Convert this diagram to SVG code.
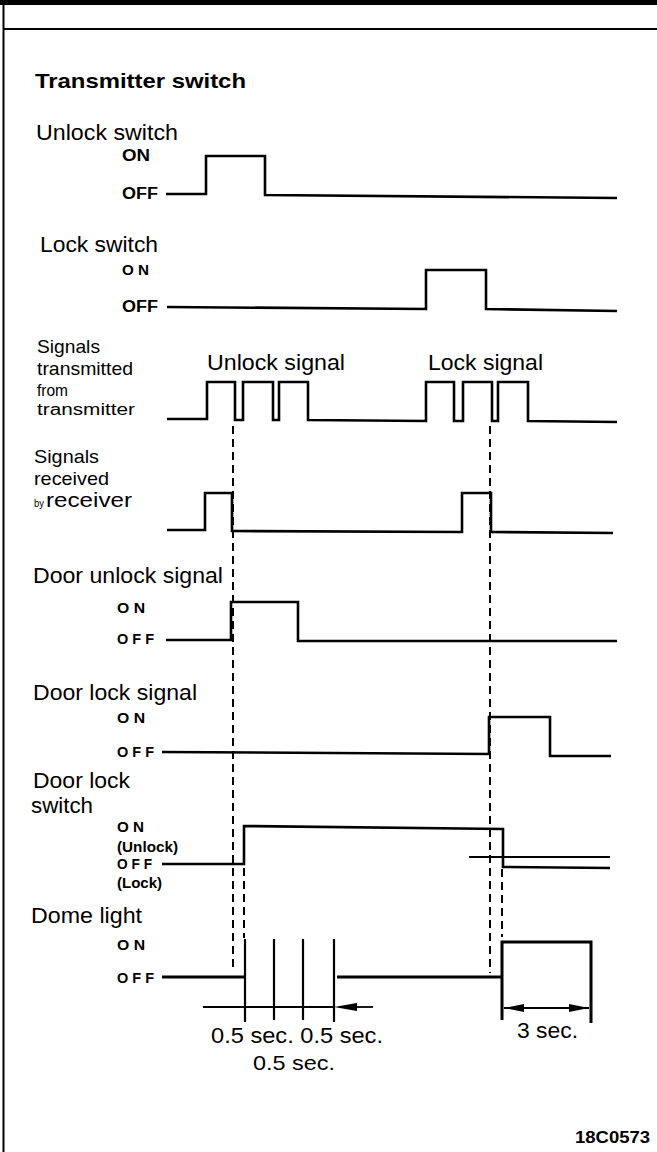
<svg xmlns="http://www.w3.org/2000/svg" width="657" height="1152" viewBox="0 0 657 1152">
<style>
.w{fill:none;stroke:#000;stroke-width:2.6;stroke-linejoin:miter}
.d{fill:none;stroke:#000;stroke-width:2;stroke-dasharray:8 5}
.t{fill:none;stroke:#000;stroke-width:1.8}
.lb{font-family:"Liberation Sans",Arial,sans-serif;font-size:22px;fill:#000}
.st{font-family:"Liberation Sans",Arial,sans-serif;font-size:19px;fill:#000}
.sm{font-family:"Liberation Sans",Arial,sans-serif;font-size:15px;font-weight:bold;fill:#000}
.ti{font-family:"Liberation Sans",Arial,sans-serif;font-size:21px;font-weight:bold;fill:#000}
</style>
<defs>
<marker id="ah" viewBox="0 0 20 10" refX="20" refY="5" markerWidth="20" markerHeight="10" markerUnits="userSpaceOnUse" orient="auto-start-reverse"><path d="M0,1 L20,5 L0,9 Z" fill="#000"/></marker>
</defs>
<rect x="0" y="0" width="657" height="1152" fill="#fff"/>
<g id="frame">
<rect x="0" y="0" width="657" height="5" fill="#000"/>
<line x1="3.5" y1="0" x2="3.5" y2="1152" stroke="#000" stroke-width="2"/>
<line x1="3" y1="29" x2="657" y2="29" stroke="#000" stroke-width="2.2"/>
</g>
<text class="ti" x="35" y="88" textLength="211" lengthAdjust="spacingAndGlyphs">Transmitter  switch</text>

<g id="unlock-switch">
<text class="lb" x="36" y="140" textLength="142" lengthAdjust="spacingAndGlyphs">Unlock  switch</text>
<text class="sm" x="122" y="161" textLength="28" lengthAdjust="spacingAndGlyphs" style="font-size:16px">ON</text>
<text class="sm" x="122" y="199" textLength="36" lengthAdjust="spacingAndGlyphs" style="font-size:16px">OFF</text>
<path class="w" d="M166,194 H206 V156 H265 V195 L617,198"/>
</g>

<g id="lock-switch">
<text class="lb" x="40" y="252" textLength="118" lengthAdjust="spacingAndGlyphs">Lock  switch</text>
<text class="sm" x="122" y="275" textLength="27" lengthAdjust="spacingAndGlyphs" style="font-size:14px">O N</text>
<text class="sm" x="122" y="312" textLength="36" lengthAdjust="spacingAndGlyphs" style="font-size:16px">OFF</text>
<path class="w" d="M167,307 L426,309 V270 H486 V309 L617,311"/>
</g>

<g id="signals-transmitted">
<text class="st" x="37" y="353" textLength="63" lengthAdjust="spacingAndGlyphs">Signals</text>
<text class="st" x="37" y="375" textLength="96" lengthAdjust="spacingAndGlyphs">transmitted</text>
<text class="st" x="37" y="396" textLength="31" lengthAdjust="spacingAndGlyphs" style="font-size:16px">from</text>
<text class="st" x="37" y="415" textLength="98" lengthAdjust="spacingAndGlyphs" style="font-size:16px">transmitter</text>
<text class="lb" x="207" y="370" textLength="138" lengthAdjust="spacingAndGlyphs">Unlock  signal</text>
<text class="lb" x="428" y="370" textLength="115" lengthAdjust="spacingAndGlyphs">Lock  signal</text>
<path class="w" d="M167,419 H207 V382 H235 V420 H243 V382 H273 V420 H279 V382 H308 V420 L426,421 V382 H454 V421 H463 V382 H492 V421 H498 V382 H528 V421 L617,422"/>
</g>

<g id="signals-received">
<text class="st" x="34" y="463" textLength="65" lengthAdjust="spacingAndGlyphs">Signals</text>
<text class="st" x="34" y="485" textLength="75" lengthAdjust="spacingAndGlyphs">received</text>
<text class="st" x="34" y="507" textLength="10" lengthAdjust="spacingAndGlyphs" style="font-size:11px">by</text>
<text class="lb" x="46" y="507" textLength="86" lengthAdjust="spacingAndGlyphs" style="font-size:20px">receiver</text>
<path class="w" d="M167,530 H205 V493 H232 V531 L462,532 V493 H491 V532 L613,533"/>
</g>

<g id="door-unlock-signal">
<text class="lb" x="33" y="583" textLength="190" lengthAdjust="spacingAndGlyphs">Door unlock signal</text>
<text class="sm" x="117" y="613" textLength="28" lengthAdjust="spacingAndGlyphs" style="font-size:14px">O N</text>
<text class="sm" x="117" y="644" textLength="37" lengthAdjust="spacingAndGlyphs" style="font-size:14px">O F F</text>
<path class="w" d="M166,640 H231 V602 H298 V641 L617,641"/>
</g>

<g id="door-lock-signal">
<text class="lb" x="33" y="700" textLength="164" lengthAdjust="spacingAndGlyphs">Door  lock  signal</text>
<text class="sm" x="117" y="723" textLength="28" lengthAdjust="spacingAndGlyphs" style="font-size:14px">O N</text>
<text class="sm" x="117" y="757" textLength="37" lengthAdjust="spacingAndGlyphs" style="font-size:14px">O F F</text>
<path class="w" d="M162,752 L489,754 V717 H550 V756 L611,756"/>
</g>

<g id="door-lock-switch">
<text class="lb" x="33" y="788" textLength="97" lengthAdjust="spacingAndGlyphs">Door  lock</text>
<text class="lb" x="31" y="813" textLength="62" lengthAdjust="spacingAndGlyphs">switch</text>
<text class="sm" x="117" y="832" textLength="27" lengthAdjust="spacingAndGlyphs" style="font-size:14px">O N</text>
<text class="sm" x="117" y="852" textLength="61" lengthAdjust="spacingAndGlyphs" style="font-size:14px">(Unlock)</text>
<text class="sm" x="117" y="869" textLength="35" lengthAdjust="spacingAndGlyphs" style="font-size:14px">O F F</text>
<text class="sm" x="117" y="888" textLength="45" lengthAdjust="spacingAndGlyphs" style="font-size:14px">(Lock)</text>
<path class="w" d="M162,864 H244 V826 L503,829 V867 L610,868"/>
<path class="t" d="M469,857 H610"/>
</g>

<g id="dome-light">
<text class="lb" x="31" y="923" textLength="111" lengthAdjust="spacingAndGlyphs">Dome  light</text>
<text class="sm" x="117" y="950" textLength="28" lengthAdjust="spacingAndGlyphs" style="font-size:14px">O N</text>
<text class="sm" x="117" y="983" textLength="37" lengthAdjust="spacingAndGlyphs" style="font-size:14px">O F F</text>
<path class="w" d="M162,977 H246 M337,977 H502 V942 H591 V1023 M502,942 V1020" style="stroke-width:3"/>
<path class="t" d="M245,939 V1022 M274,939 V1020 M303,939 V1020 M334,939 V1022" style="stroke-width:2.2"/>
<path class="t" d="M203,1007 H334"/>
<path d="M334,1007 L357,1003 L357,1011 Z" fill="#000"/>
<path class="t" d="M357,1007 H373"/>
<path class="t" d="M504,1008 H589" marker-start="url(#ah)" marker-end="url(#ah)"/>
<text class="lb" x="211" y="1043" textLength="172" lengthAdjust="spacingAndGlyphs">0.5  sec.  0.5  sec.</text>
<text class="lb" x="253" y="1070" textLength="82" lengthAdjust="spacingAndGlyphs" style="font-size:21px">0.5 sec.</text>
<text class="lb" x="517" y="1038" textLength="61" lengthAdjust="spacingAndGlyphs">3 sec.</text>
</g>

<g id="connectors">
<path class="d" d="M233,426 V972"/>
<path class="d" d="M244,868 V938"/>
<path class="d" d="M490,426 V973"/>
<path class="d" d="M502,869 V937"/>
</g>

<text class="sm" x="575" y="1143" textLength="75" lengthAdjust="spacingAndGlyphs" style="font-size:16px">18C0573</text>
</svg>
